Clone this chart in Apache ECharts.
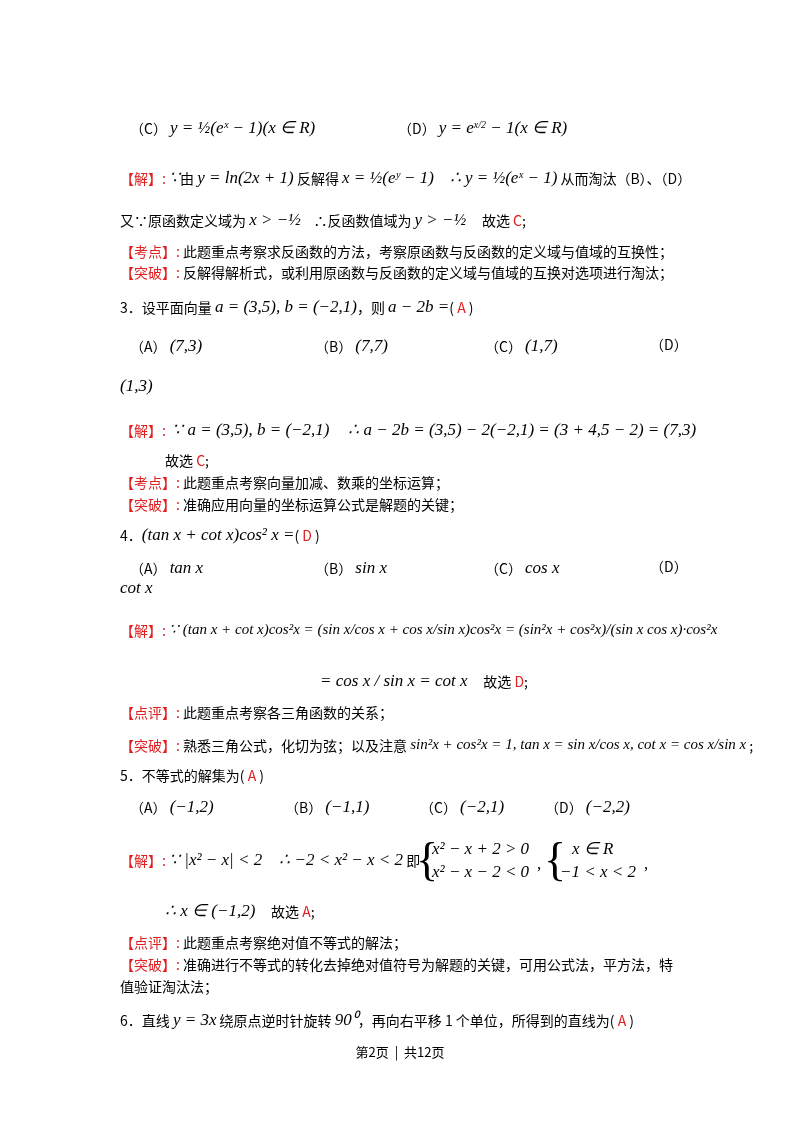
<!DOCTYPE html>
<html><head><meta charset="utf-8">
<script src="https://cdn.jsdelivr.net/npm/echarts@6/dist/echarts.min.js"></script>
<style>html,body{margin:0;padding:0;background:#fff}#c{width:800px;height:1132px}</style>
</head><body><div id="c"></div>
<script>
// Text content of the page (rich-text markup: {r|..} red, {m|..} math, {n|..} smaller math)
const lineTexts = [
 "（C） {m|y = ½(eˣ − 1)(x ∈ R)}",
 "（D） {m|y = e}{s|x/2}{m| − 1(x ∈ R)}",
 "{r|【解】:} {m|∵}由 {m|y = ln(2x + 1)} 反解得 {m|x = ½(eʸ − 1)}     {m|∴ y = ½(eˣ − 1)} 从而淘汰（B）、（D）",
 "又∵原函数定义域为 {m|x > −½}    ∴反函数值域为 {m|y > −½}     故选 {r|C};",
 "{r|【考点】:} 此题重点考察求反函数的方法，考察原函数与反函数的定义域与值域的互换性；",
 "{r|【突破】:} 反解得解析式，或利用原函数与反函数的定义域与值域的互换对选项进行淘汰；",
 "3．设平面向量 {m|a = (3,5), b = (−2,1)}，则 {m|a − 2b =}( {r|A} )",
 "（A） {m|(7,3)}", "（B） {m|(7,7)}", "（C） {m|(1,7)}", "（D）",
 "{m|(1,3)}",
 "{r|【解】:}  {m|∵ a = (3,5), b = (−2,1)}      {m|∴ a − 2b = (3,5) − 2(−2,1) = (3 + 4,5 − 2) = (7,3)}",
 "故选 {r|C};",
 "{r|【考点】:} 此题重点考察向量加减、数乘的坐标运算；",
 "{r|【突破】:} 准确应用向量的坐标运算公式是解题的关键；",
 "4．{m|(tan x + cot x)cos² x =}( {r|D} )",
 "（A） {m|tan x}", "（B） {m|sin x}", "（C） {m|cos x}", "（D）",
 "{m|cot x}",
 "{r|【解】:} {n|∵ (tan x + cot x)cos²x = (sin x/cos x + cos x/sin x)cos²x = (sin²x + cos²x)/(sin x cos x)·cos²x}",
 "{m|= cos x / sin x = cot x}     故选 {r|D};",
 "{r|【点评】:} 此题重点考察各三角函数的关系；",
 "{r|【突破】:} 熟悉三角公式，化切为弦；以及注意 {n|sin²x + cos²x = 1, tan x = sin x/cos x, cot x = cos x/sin x} ;",
 "5．不等式的解集为( {r|A} )",
 "（A） {m|(−1,2)}", "（B） {m|(−1,1)}", "（C） {m|(−2,1)}", "（D） {m|(−2,2)}",
 "{r|【解】:} {m|∵ |x² − x| < 2    ∴ −2 < x² − x < 2} 即",
 "{m|x² − x + 2 > 0}", "{m|x² − x − 2 < 0}", "{m|x ∈ R}", "{m|−1 < x < 2}",
 "{m|∴ x ∈ (−1,2)}     故选 {r|A};",
 "{r|【点评】:} 此题重点考察绝对值不等式的解法；",
 "{r|【突破】:} 准确进行不等式的转化去掉绝对值符号为解题的关键，可用公式法，平方法，特",
 "值验证淘汰法；",
 "6．直线 {m|y = 3x} 绕原点逆时针旋转 {m|90⁰}，再向右平移 1 个单位，所得到的直线为( {r|A} )",
 "第2页  |  共12页"
];
const lineX = [130,398,120,120,120,120,120,130,315,485,650,120,120,165,120,120,120,130,315,485,650,120,120,320,120,120,120,130,285,420,545,120,432,432,572,560,165,120,120,120,120,400];
const lineY = [130,130,180,222,255,276,309,348,348,348,348,388,432,464,486,508,537,570,570,570,570,590,633,683,716,748,779,809,809,809,809,862,851,874,851,874,913,946,968,990,1022,1056];

const chart = echarts.init(document.getElementById('c'), null, {renderer:'canvas'});
const rich = {
  r:{fill:'#e02020',fontFamily:'Noto Sans CJK SC',fontSize:14},
  m:{fill:'#000',fontFamily:'Liberation Serif',fontStyle:'italic',fontSize:17},
  n:{fill:'#000',fontFamily:'Liberation Serif',fontStyle:'italic',fontSize:15},
  s:{fill:'#000',fontFamily:'Liberation Serif',fontStyle:'italic',fontSize:10,verticalAlign:'top'}
};
const els = lineTexts.map((t,i)=>({
  type:'text', left: (i===lineTexts.length-1)? 'center' : lineX[i], top: lineY[i]-10,
  style:{text:t, fill:'#000', fontFamily:'Noto Sans CJK SC', fontSize: i===lineTexts.length-1?13:14, rich}
}));
// braces and commas for the systems of inequalities
els.push({type:'text',left:416,top:840,style:{text:'{',fontSize:46,fontFamily:'Liberation Serif',fill:'#000'}});
els.push({type:'text',left:544,top:840,style:{text:'{',fontSize:46,fontFamily:'Liberation Serif',fill:'#000'}});
els.push({type:'text',left:537,top:856,style:{text:',',fontSize:17,fontFamily:'Liberation Serif',fill:'#000'}});
els.push({type:'text',left:644,top:856,style:{text:',',fontSize:17,fontFamily:'Liberation Serif',fill:'#000'}});
chart.setOption({graphic:{elements:els}});
</script></body></html>
